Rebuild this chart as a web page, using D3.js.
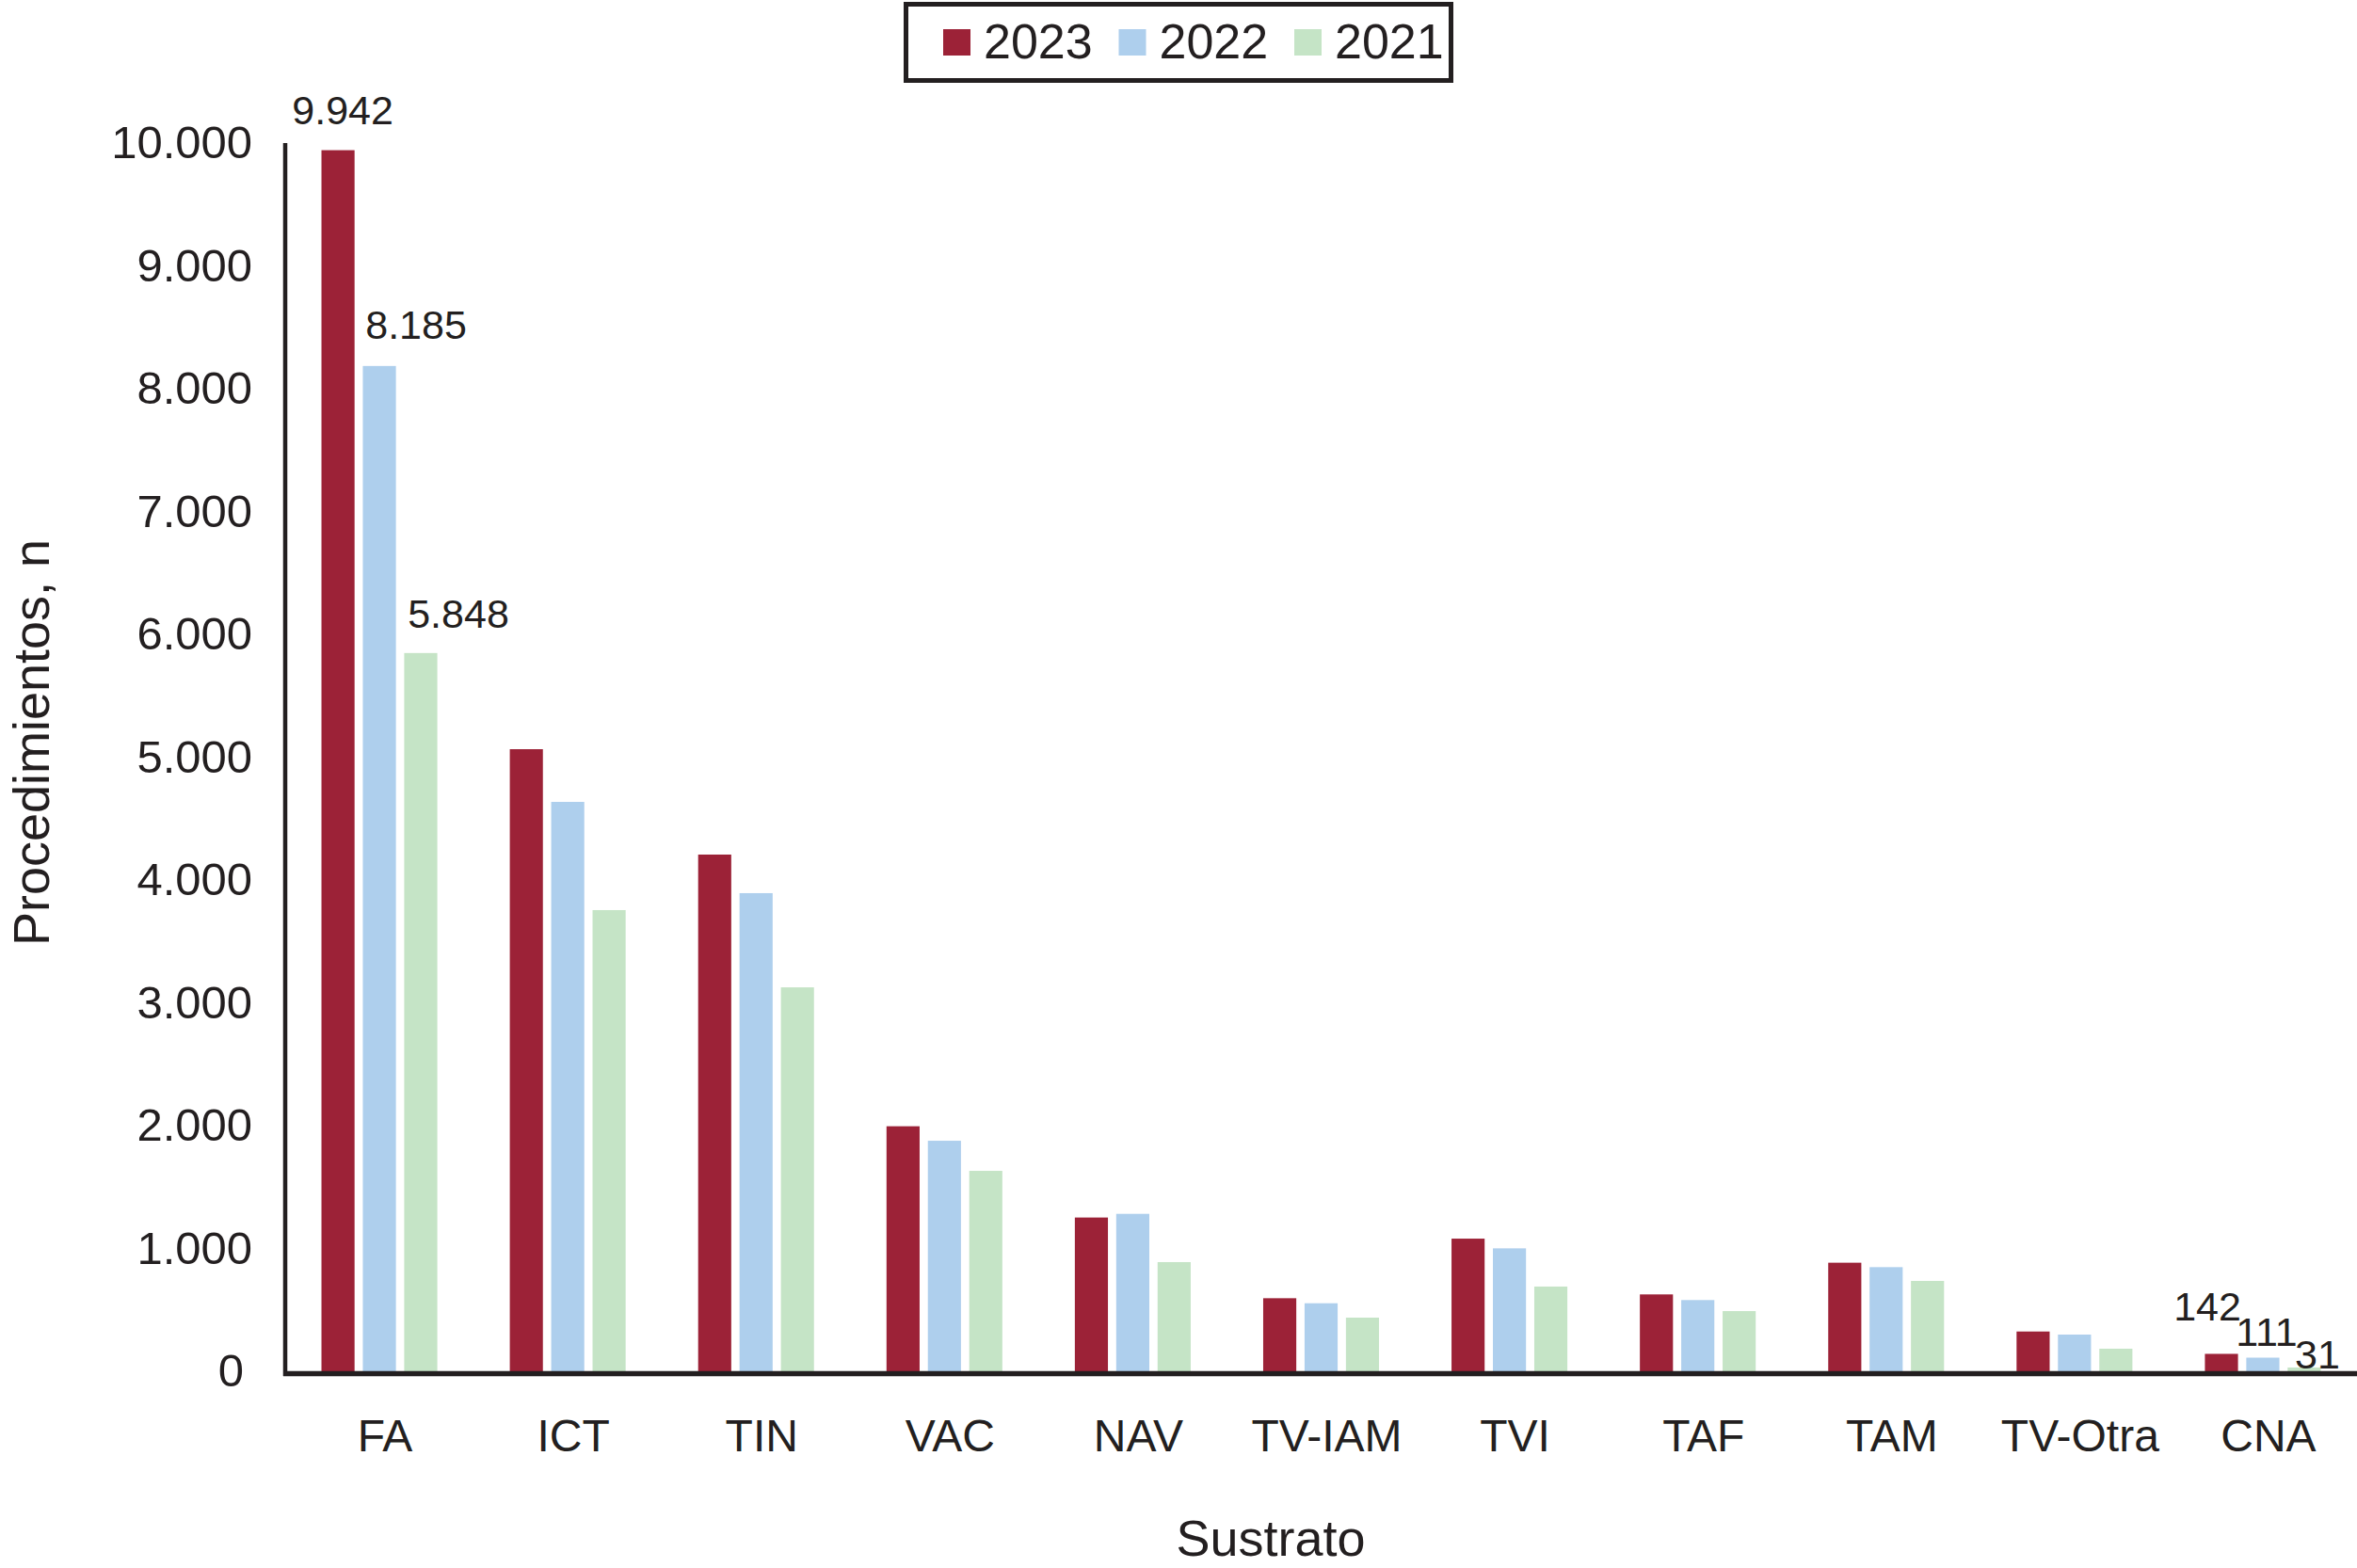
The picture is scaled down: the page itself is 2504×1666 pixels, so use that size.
<!DOCTYPE html>
<html lang="es">
<head>
<meta charset="UTF-8">
<title>Procedimientos por sustrato</title>
<script src="https://d3js.org/d3.v7.min.js"></script>
<style>
  body { margin: 0; background: #fff; }
  svg text { font-family: "Liberation Sans", Arial, Helvetica, sans-serif; fill: #231f20; }
</style>
</head>
<body>
<div id="chart"></div>
<script>
// Datos
const sustratos = ['FA', 'ICT', 'TIN', 'VAC', 'NAV', 'TV-IAM', 'TVI', 'TAF', 'TAM', 'TV-Otra', 'CNA'];
const anios = ['2023', '2022', '2021'];
const v2023 = [9942, 5065, 4207, 1995, 1252, 595, 1080, 626, 884, 324, 142];
const v2022 = [8185, 4636, 3893, 1877, 1282, 554, 1001, 580, 848, 299, 111];
const v2021 = [5848, 3755, 3126, 1632, 889, 437, 690, 490, 736, 184, 31];
const yTicks = [0, 1000, 2000, 3000, 4000, 5000, 6000, 7000, 8000, 9000, 10000];

// etiquetas de valor (solo FA y CNA), desplazamientos a mano como en el original
const etiquetas = [
  { cat: 'FA', s: 0, dx: 5, dy: -28 },
  { cat: 'FA', s: 1, dx: 39, dy: -29 },
  { cat: 'FA', s: 2, dx: 40, dy: -27 },
  { cat: 'CNA', s: 0, dx: -15, dy: -35 },
  { cat: 'CNA', s: 1, dx: 4, dy: -13 },
  { cat: 'CNA', s: 2, dx: 14, dy: 1 }
];

const colores = ['#9c2237', '#aecfed', '#c5e4c6'];
const series = [v2023, v2022, v2021];

const W = 2504, H = 1666;
const mLeft = 303, mRight = 2504, mTop = 152, mBottom = 1457;

const es = d3.formatLocale({ decimal: ',', thousands: '.', grouping: [3], currency: ['', ' €'] });
const fmt = es.format(',d');

const svg = d3.select('#chart').append('svg')
  .attr('width', W)
  .attr('height', H);

const x0 = d3.scaleBand().domain(sustratos).range([mLeft, mRight])
  .paddingInner(0.385).paddingOuter(0.1925);
const x1 = d3.scaleBand().domain(d3.range(anios.length)).range([0, x0.bandwidth()])
  .paddingInner(0.2).paddingOuter(0);
const y = d3.scaleLinear().domain([0, 10000]).range([mBottom, mTop]);

// barras
const grupos = svg.append('g').selectAll('g')
  .data(sustratos)
  .join('g')
  .attr('transform', d => `translate(${x0(d)},0)`);

grupos.selectAll('rect')
  .data((d, i) => series.map((s, k) => ({ k, v: s[i] })))
  .join('rect')
  .attr('x', d => x1(d.k))
  .attr('width', x1.bandwidth())
  .attr('y', d => y(d.v))
  .attr('height', d => y(0) - y(d.v))
  .attr('fill', d => colores[d.k]);

// eje Y
const yAxis = svg.append('g')
  .attr('transform', `translate(${mLeft},0)`)
  .call(d3.axisLeft(y).tickValues(yTicks).tickSize(0).tickPadding(35).tickFormat(fmt));
yAxis.select('.domain').remove();
yAxis.selectAll('text').style('font-size', '49px').attr('fill', '#231f20');
// el "0" queda un poco más a la izquierda en el original
yAxis.selectAll('.tick').filter(d => d === 0).select('text').attr('dx', -9);
yAxis.append('line')
  .attr('x1', 0).attr('x2', 0)
  .attr('y1', mTop).attr('y2', mBottom + 5)
  .attr('stroke', '#231f20').attr('stroke-width', 4.5);

// eje X
const xAxis = svg.append('g')
  .attr('transform', `translate(0,${mBottom})`)
  .call(d3.axisBottom(x0).tickSize(0).tickPadding(51));
xAxis.select('.domain').remove();
xAxis.selectAll('text').style('font-size', '48px').attr('fill', '#231f20').attr('dx', 6);
xAxis.append('line')
  .attr('x1', mLeft - 2).attr('x2', mRight)
  .attr('y1', 2.5).attr('y2', 2.5)
  .attr('stroke', '#231f20').attr('stroke-width', 5.5);

// etiquetas de datos
svg.append('g').selectAll('text')
  .data(etiquetas)
  .join('text')
  .attr('x', d => x0(d.cat) + x1(d.s) + x1.bandwidth() / 2 + d.dx)
  .attr('y', d => y(series[d.s][sustratos.indexOf(d.cat)]) + d.dy)
  .attr('text-anchor', 'middle')
  .style('font-size', '43px')
  .text(d => fmt(series[d.s][sustratos.indexOf(d.cat)]));

// títulos de ejes
svg.append('text')
  .attr('transform', 'translate(52,789) rotate(-90)')
  .attr('text-anchor', 'middle')
  .style('font-size', '54px')
  .text('Procedimientos, n');

svg.append('text')
  .attr('x', 1350).attr('y', 1653)
  .attr('text-anchor', 'middle')
  .style('font-size', '54px')
  .text('Sustrato');

// leyenda
const leyenda = svg.append('g');
leyenda.append('rect')
  .attr('x', 962.5).attr('y', 4.5)
  .attr('width', 579).attr('height', 81)
  .attr('fill', 'none').attr('stroke', '#231f20').attr('stroke-width', 5);

const items = leyenda.selectAll('g.item')
  .data(anios)
  .join('g')
  .attr('class', 'item')
  .attr('transform', (d, i) => `translate(${1002 + i * 186.5},0)`);
items.append('rect')
  .attr('x', 0).attr('y', 31)
  .attr('width', 29).attr('height', 28)
  .attr('fill', (d, i) => colores[i]);
items.append('text')
  .attr('x', 43).attr('y', 62)
  .style('font-size', '52px')
  .text(d => d);
</script>
</body>
</html>
